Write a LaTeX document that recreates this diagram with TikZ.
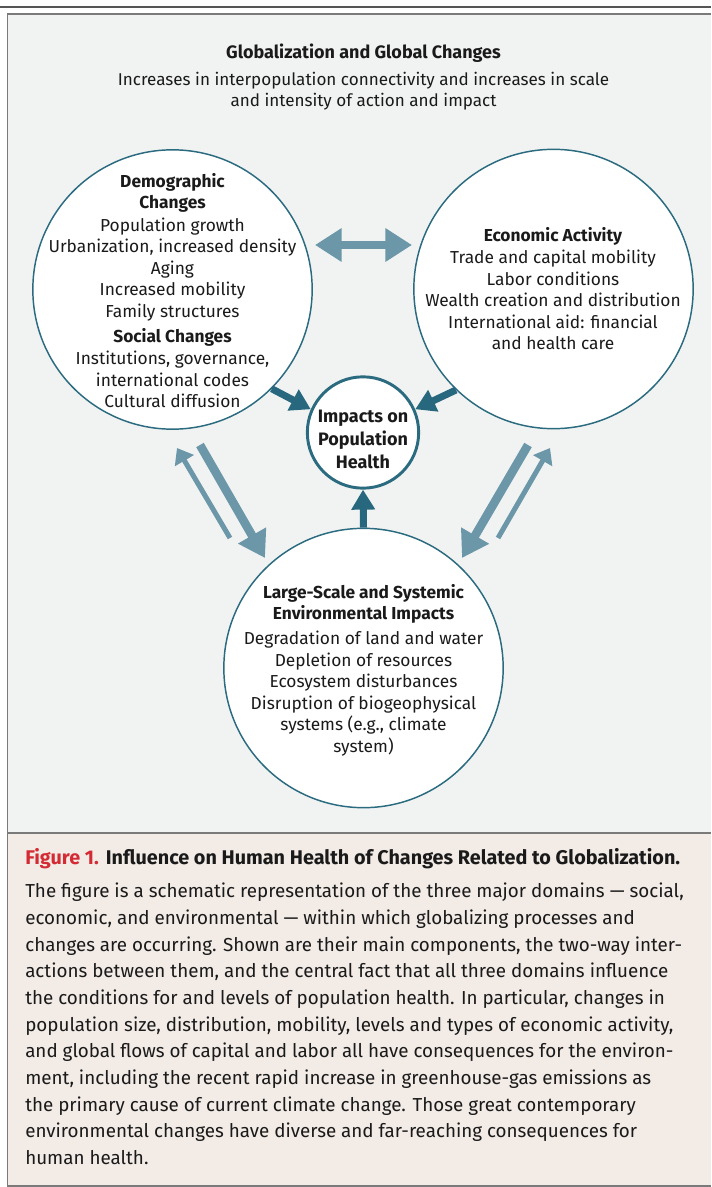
\documentclass[tikz,border=0pt]{standalone}
\usepackage{fontspec}
\setmainfont{Fira Sans}
\usetikzlibrary{arrows.meta}
\definecolor{bgfig}{HTML}{F1F3F2}
\definecolor{bgcap}{HTML}{F2EBE6}
\definecolor{ring}{HTML}{2B6B80}
\definecolor{lightar}{HTML}{6B97A9}
\definecolor{darkar}{HTML}{27687E}
\definecolor{figred}{HTML}{D42A33}
\definecolor{toprule}{HTML}{555555}
\definecolor{framec}{HTML}{7A7A7A}
\definecolor{ink}{HTML}{1A1A1A}
\tikzset{
  bigcirc/.style={circle, draw=ring, line width=1.1pt, fill=white, minimum size=209.5pt, inner sep=0pt},
  smallcirc/.style={circle, draw=ring, line width=2.2pt, fill=white, minimum size=83.5pt, inner sep=0pt},
  txtblock/.style={align=center, inner sep=0pt, text=ink, font=\fontsize{13}{16.1}\selectfont},
  imptxt/.style={align=center, inner sep=0pt, text=ink, font=\fontsize{13.5}{17.2}\selectfont\bfseries},
  captxt/.style={align=left, inner sep=0pt, text=ink, font=\fontsize{14.1}{20}\selectfont},
  lightthick/.style={draw=lightar, line width=6.5pt, -{Triangle[length=19.5pt,width=23pt]}},
  lightthin/.style={draw=lightar, line width=3.75pt, -{Triangle[length=11pt,width=16pt]}},
  lightdouble/.style={draw=lightar, line width=6pt, {Triangle[length=20pt,width=24pt]}-{Triangle[length=20pt,width=24pt]}},
  darkarrow/.style={draw=darkar, line width=5.25pt, -{Triangle[length=15pt,width=17pt]}}
}
\begin{document}
\begin{tikzpicture}[x=0.75pt,y=-0.75pt]
\useasboundingbox (0,0) rectangle (711,1187);
% panels
\fill[bgfig] (7.5,14) rectangle (711,833);
\fill[bgcap] (7.5,833) rectangle (711,1186);
\draw[toprule, line width=1.7pt] (0,7) -- (711,7);
\draw[framec, line width=1.3pt] (711,14) -- (7.5,14) -- (7.5,1186) -- (711,1186);
\draw[framec, line width=1.3pt] (7.5,833) -- (711,833);

% header
\node[txtblock, font=\fontsize{13.5}{16.1}\selectfont\bfseries] (title) at (363.5,53) {Globalization and Global Changes};
\node[txtblock, font=\fontsize{12.8}{16.1}\selectfont] (subtitle) at (363.5,91) {Increases in interpopulation connectivity and increases in scale\\and intensity of action and impact};

% circles
\node[bigcirc] (demo) at (172.5,289.5) {};
\node[bigcirc] (econ) at (553.5,289) {};
\node[bigcirc] (env) at (363.5,668) {};
\node[smallcirc] (imp) at (363,432.5) {};

% circle texts
\node[txtblock] (demotxt) at (172.5,290.5) {\textbf{Demographic}\\\textbf{Changes}\\[1pt]Population growth\\Urbanization, increased density\\Aging\\Increased mobility\\Family structures\\[2.5pt]\textbf{Social Changes}\\[1pt]Institutions, governance,\\international codes\\Cultural diffusion};
\node[txtblock] (econtxt) at (553,288.5) {\textbf{Economic Activity}\\[1pt]Trade and capital mobility\\Labor conditions\\Wealth creation and distribution\\International aid: financial\\and health care};
\node[txtblock] (envtxt) at (363.5,670) {\textbf{Large-Scale and Systemic}\\\textbf{Environmental Impacts}\\[3pt]Degradation of land and water\\Depletion of resources\\Ecosystem disturbances\\Disruption of biogeophysical\\systems (e.g., climate\\system)};
\node[imptxt] (imptext) at (363,439) {Impacts on\\Population\\Health};

% free arrow end points
\coordinate (hl) at (315,245);
\coordinate (hr) at (412,245);
\coordinate (lta) at (200,445);
\coordinate (ltb) at (265,558);
\coordinate (lsa) at (230,538);
\coordinate (lsb) at (177,448);
\coordinate (rta) at (528,445);
\coordinate (rtb) at (462,558);
\coordinate (rsa) at (498,538);
\coordinate (rsb) at (550,448);

% arrows
\draw[lightdouble] (hl) -- (hr);
\draw[lightthick] (lta) -- (ltb);
\draw[lightthin] (lsa) -- (lsb);
\draw[lightthick] (rta) -- (rtb);
\draw[lightthin] (rsa) -- (rsb);
\draw[darkarrow] (demo.-45) -- (imp.156);
\draw[darkarrow] (econ.-134) -- (imp.24);
\draw[darkarrow] (env.north) -- (imp.south);

% caption
\node[captxt, anchor=west, font=\fontsize{14.85}{20}\selectfont] (captitle) at (25,859) {\textcolor{figred}{\textbf{Figure 1.}} \textbf{Influence on Human Health of Changes Related to Globalization.}};
\node[captxt, anchor=west] (capbody) at (25,1024) {The figure is a schematic representation of the three major domains — social,\\
economic, and environmental — within which globalizing processes and\\
changes are occurring. Shown are their main components, the two-way inter-\\
actions between them, and the central fact that all three domains influence\\
the conditions for and levels of population health. In particular, changes in\\
population size, distribution, mobility, levels and types of economic activity,\\
and global flows of capital and labor all have consequences for the environ-\\
ment, including the recent rapid increase in greenhouse-gas emissions as\\
the primary cause of current climate change. Those great contemporary\\
environmental changes have diverse and far-reaching consequences for\\
human health.};
\end{tikzpicture}
\end{document}
